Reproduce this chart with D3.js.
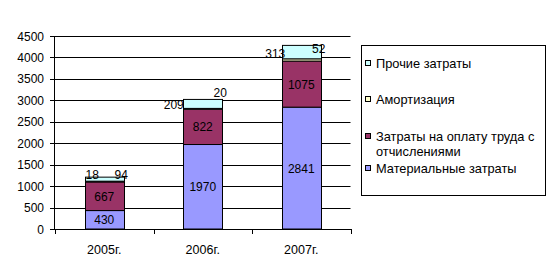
<!DOCTYPE html>
<html><head><meta charset="utf-8">
<script src="https://cdn.jsdelivr.net/npm/d3@7"></script>
<style>
body{margin:0;background:#fff;}
svg{font-family:"Liberation Sans",Arial,sans-serif;}
</style></head>
<body><svg id="c" width="554" height="267"></svg>
<script>
const categories = ["2005г.", "2006г.", "2007г."];
const seriesNames = ["Материальные затраты", "Затраты на оплату труда с отчислениями", "Амортизация", "Прочие затраты"];
const material = [430, 1970, 2841];
const labor = [667, 822, 1075];
const amortization = [18, 20, 52];
const other = [94, 209, 313];
const yTicks = [0, 500, 1000, 1500, 2000, 2500, 3000, 3500, 4000, 4500];
const colors = ["#9999FF", "#993366", "#FFFFCC", "#CCFFFF"];

const series = [material, labor, amortization, other];
const rows = categories.map((c, i) => {
  const r = {cat: c};
  seriesNames.forEach((s, k) => r[s] = series[k][i]);
  return r;
});
const stacked = d3.stack().keys(seriesNames)(rows);

const svg = d3.select("#c");
const x = d3.scaleBand().domain(categories).range([55, 350.5]).paddingInner(0.6).paddingOuter(0.3);
const y = d3.scaleLinear().domain([0, 4500]).range([229, 36]);
const step = x.step();
const FS = 12;

// gridlines
svg.append("g").selectAll("line").data(yTicks.filter(t => t > 0)).join("line")
  .attr("x1", 55).attr("x2", 350.5)
  .attr("y1", d => Math.round(y(d)) + 0.5).attr("y2", d => Math.round(y(d)) + 0.5)
  .attr("stroke", "#000").attr("stroke-width", 1);

// bars
const g = svg.append("g");
stacked.forEach((layer, k) => {
  g.append("g").selectAll("rect").data(layer).join("rect")
    .attr("x", d => Math.round(x(d.data.cat)) + 0.5)
    .attr("y", d => y(d[1]))
    .attr("width", Math.round(x.bandwidth()))
    .attr("height", d => y(d[0]) - y(d[1]))
    .attr("fill", colors[k]).attr("stroke", "#000").attr("stroke-width", 1);
});

// labels in big segments
[0, 1].forEach(k => {
  svg.append("g").selectAll("text").data(stacked[k]).join("text")
    .attr("x", d => x(d.data.cat) + x.bandwidth() / 2)
    .attr("y", d => (y(d[0]) + y(d[1])) / 2 + 4.5)
    .attr("text-anchor", "middle").attr("font-size", FS).attr("fill", "#000")
    .text(d => d.data[seriesNames[k]]);
});
// labels of small segments (manually moved in the original)
const smallOffsets = {
  2: [[-12, -3], [17.5, -7], [17.5, 3]],
  3: [[17, -3], [-29, 5.5], [-26, 8]]
};
[2, 3].forEach(k => {
  svg.append("g").selectAll("text").data(stacked[k]).join("text")
    .attr("x", (d, i) => x(d.data.cat) + x.bandwidth() / 2 + smallOffsets[k][i][0])
    .attr("y", (d, i) => y(stacked[3][i][1]) + smallOffsets[k][i][1] + 4.5)
    .attr("text-anchor", "middle").attr("font-size", FS).attr("fill", "#000")
    .text(d => d.data[seriesNames[k]]);
});

// y axis
const ya = svg.append("g");
ya.append("line").attr("x1", 54.5).attr("x2", 54.5).attr("y1", y(4500)).attr("y2", y(0) + 0.5).attr("stroke", "#000");
ya.selectAll("line.t").data(yTicks).join("line").attr("class", "t")
  .attr("x1", 50).attr("x2", 55).attr("y1", d => Math.round(y(d)) + 0.5).attr("y2", d => Math.round(y(d)) + 0.5).attr("stroke", "#000");
ya.selectAll("text").data(yTicks).join("text")
  .attr("x", 44).attr("y", d => y(d) + 4.5).attr("text-anchor", "end").attr("font-size", FS)
  .text(d => d);

// x axis
const xa = svg.append("g");
xa.append("line").attr("x1", 54.5).attr("x2", 351).attr("y1", Math.round(y(0)) + 0.5).attr("y2", Math.round(y(0)) + 0.5).attr("stroke", "#000");
const bounds = [0, 1, 2, 3].map(i => 55 + i * step);
xa.selectAll("line.t").data(bounds).join("line").attr("class", "t")
  .attr("x1", d => Math.round(d) + 0.5).attr("x2", d => Math.round(d) + 0.5)
  .attr("y1", 229).attr("y2", 234).attr("stroke", "#000");
xa.selectAll("text").data(categories).join("text")
  .attr("x", d => x(d) + x.bandwidth() / 2).attr("y", 253.5)
  .attr("text-anchor", "middle").attr("font-size", 12.5).text(d => d);

// legend
const lg = svg.append("g");
lg.append("rect").attr("x", 361.5).attr("y", 45.5).attr("width", 184).attr("height", 150)
  .attr("fill", "#fff").attr("stroke", "#000");
const legendItems = [
  {k: 3, lines: ["Прочие затраты"], cy: 63},
  {k: 2, lines: ["Амортизация"], cy: 99},
  {k: 1, lines: ["Затраты на оплату труда с", "отчислениями"], cy: 136},
  {k: 0, lines: ["Материальные затраты"], cy: 168}
];
legendItems.forEach(it => {
  lg.append("rect").attr("x", 365.5).attr("y", it.cy - 2.5).attr("width", 5).attr("height", 5)
    .attr("fill", colors[it.k]).attr("stroke", "#000");
  it.lines.forEach((t, j) => {
    lg.append("text").attr("x", 376).attr("y", it.cy + 4.5 + j * 15).attr("font-size", 12.8).text(t);
  });
});
</script></body></html>
